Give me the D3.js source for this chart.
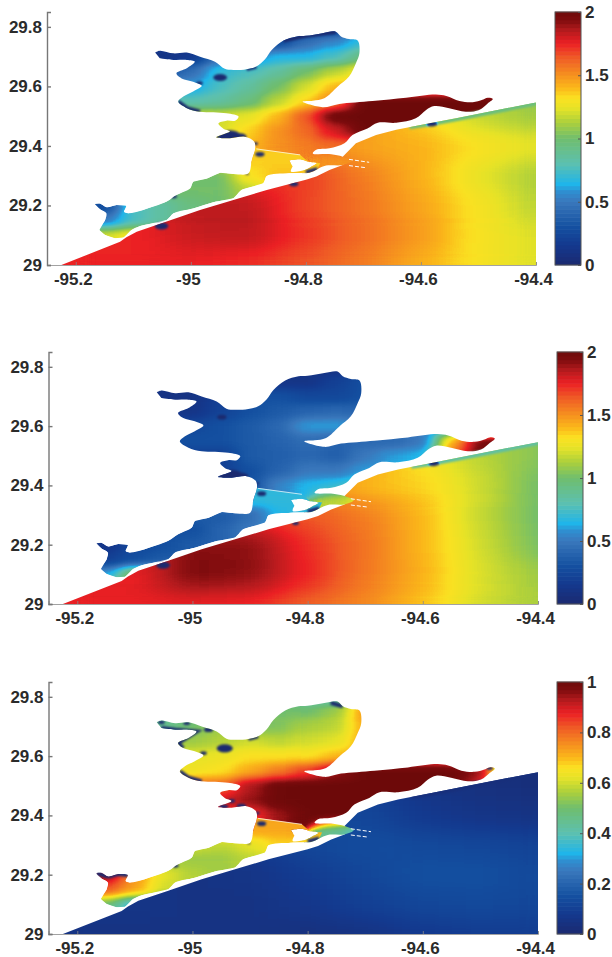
<!DOCTYPE html>
<html>
<head>
<meta charset="utf-8">
<script src="https://cdn.jsdelivr.net/npm/d3@7"></script>
<style>
html, body { margin: 0; padding: 0; background: #fff; }
svg { display: block; }
text { font-family: "Liberation Sans", Arial, sans-serif; font-size: 17px; font-weight: bold; fill: #2b2b2b; }
</style>
</head>
<body>
<svg id="svg1" width="612" height="957"></svg>
<script>
// grid positions of the values
var bayLons = [-95.15,-95.10,-95.05,-95.00,-94.95,-94.90,-94.85,-94.80,-94.75,-94.70,-94.65,-94.60,-94.55,-94.50,-94.45];
var bayLats = [29.80,29.75,29.70,29.65,29.60,29.55,29.50,29.45,29.40,29.35,29.30,29.25,29.20,29.15,29.10,29.05];
var gulfLons = [-95.2,-95.1,-95.0,-94.9,-94.8,-94.7,-94.6,-94.5,-94.4];
var gulfLats = [29.6,29.5,29.4,29.3,29.2,29.1,29.0];

// panel 1
var bay1 = [
 [.3,.3,.3,.3,.3,.3,.15,.1,.1,.5,.7,.7,.7,.7,.7],
 [.2,.2,.2,.15,.15,.2,.25,.45,.55,.7,.8,.8,.8,.8,.8],
 [.1,.1,.1,.15,.45,.5,.65,.65,.75,.95,1.1,1.1,1.1,1.1,1.1],
 [.3,.3,.3,.45,.7,.75,.85,1,1.15,1.3,1.4,1.4,1.4,1.4,1.4],
 [.6,.6,.6,.6,.75,.85,1,1.2,1.4,1.45,1.5,1.5,1.5,1.5,1.5],
 [.8,.8,.8,.8,.85,.95,1.15,1.35,1.55,2,2,2,2,2,2],
 [1,1,1.1,1.2,1.2,1.25,1.4,1.65,2,2,2,2,2,2,2],
 [1.2,1.2,1.2,1.2,1.2,1.35,1.5,1.6,1.8,2,2,2,2,2,2],
 [1.3,1.3,1.3,1.3,1.3,1.4,1.5,1.55,1.6,1.6,1.6,1.6,1.6,1.6,1.6],
 [1.36,1.36,1.36,1.36,1.36,1.36,1.36,1.36,1.5,1.5,1.5,1.5,1.5,1.5,1.5],
 [1,1,1,1,1,1.3,1.38,1.38,1.38,1.38,1.38,1.38,1.38,1.38,1.38],
 [1,1,1,1,1,1.15,1.3,1.38,1.38,1.38,1.38,1.38,1.38,1.38,1.38],
 [.25,.75,.85,.95,1,1.1,1.3,1.38,1.38,1.38,1.38,1.38,1.38,1.38,1.38],
 [.5,.75,.85,.95,1,1.1,1.3,1.38,1.38,1.38,1.38,1.38,1.38,1.38,1.38],
 [1.2,1.3,1.3,1.3,1.3,1.3,1.3,1.38,1.38,1.38,1.38,1.38,1.38,1.38,1.38],
 [1.3,1.3,1.3,1.3,1.3,1.3,1.3,1.38,1.38,1.38,1.38,1.38,1.38,1.38,1.38]
];
var gulf1 = [
 [1.5,1.5,1.5,1.5,1.5,1.5,1.35,1.15,1.05],
 [1.5,1.5,1.5,1.5,1.5,1.5,1.35,1.18,1.1],
 [1.6,1.6,1.6,1.6,1.55,1.45,1.42,1.32,1.25],
 [1.72,1.72,1.72,1.72,1.7,1.55,1.42,1.25,1.12],
 [1.74,1.74,1.84,1.84,1.68,1.58,1.45,1.3,1.15],
 [1.74,1.74,1.82,1.84,1.72,1.6,1.48,1.3,1.22],
 [1.75,1.75,1.75,1.72,1.65,1.55,1.42,1.3,1.22]
];

// panel 2
var bay2 = [
 [.15,.15,.15,.15,.15,.15,.12,.08,.08,.2,.3,.3,.3,.3,.3],
 [.12,.12,.12,.12,.12,.15,.12,.12,.2,.3,.35,.35,.35,.35,.35],
 [.1,.1,.1,.1,.2,.3,.3,.25,.25,.3,.4,.4,.4,.4,.4],
 [.12,.12,.12,.12,.22,.3,.35,.4,.42,.4,.4,.4,.4,.4,.4],
 [.25,.25,.25,.25,.3,.35,.42,.6,.6,.55,.5,.5,.5,.5,.5],
 [.3,.3,.3,.3,.3,.35,.4,.45,.4,.42,.42,.5,1.4,1.95,2],
 [.2,.2,.2,.2,.2,.35,.38,.42,.38,.5,.6,.65,1.6,2,2],
 [.2,.2,.2,.2,.2,.3,.4,.5,.5,.6,.65,.7,.8,.8,.8],
 [.3,.3,.3,.3,.3,.3,.55,.65,.7,.8,.8,.8,.8,.8,.8],
 [.68,.68,.68,.68,.68,.68,.68,.68,1.15,1.3,1.3,1.3,1.3,1.3,1.3],
 [.35,.35,.35,.35,.35,.45,.66,.68,.68,.68,.68,.68,.68,.68,.68],
 [.3,.3,.3,.3,.4,.5,.6,.68,.68,.68,.68,.68,.68,.68,.68],
 [.12,.25,.3,.35,.4,.5,.6,.68,.68,.68,.68,.68,.68,.68,.68],
 [.2,.3,.35,.35,.4,.5,.6,.68,.68,.68,.68,.68,.68,.68,.68],
 [.6,1.1,1.1,1.1,1.1,1.1,1.1,1.1,1.1,1.1,1.1,1.1,1.1,1.1,1.1],
 [1.1,1.2,1.2,1.2,1.2,1.2,1.2,1.2,1.2,1.2,1.2,1.2,1.2,1.2,1.2]
];
var gulf2 = [
 [1.45,1.45,1.45,1.45,1.45,1.45,1.3,1.15,1.05],
 [1.45,1.45,1.45,1.45,1.45,1.45,1.3,1.15,1.05],
 [1.6,1.6,1.6,1.6,1.55,1.4,1.35,1.2,1.0],
 [1.72,1.72,1.72,1.72,1.65,1.55,1.4,1.18,1.0],
 [1.76,1.76,1.93,1.92,1.72,1.58,1.4,1.2,1.02],
 [1.76,1.76,1.95,1.92,1.75,1.57,1.42,1.22,1.1],
 [1.76,1.76,1.76,1.74,1.62,1.52,1.38,1.2,1.12]
];

// panel 3
var bay3 = [
 [.5,.5,.5,.5,.5,.5,.45,.4,.4,.6,.75,.75,.75,.75,.75],
 [.45,.45,.45,.45,.5,.5,.5,.5,.55,.75,.8,.8,.8,.8,.8],
 [.45,.45,.45,.5,.55,.5,.52,.56,.58,.72,.8,.8,.8,.8,.8],
 [.55,.55,.55,.55,.57,.6,.58,.6,.62,.72,.7,.7,.7,.7,.7],
 [.62,.62,.62,.62,.63,.66,.66,.66,.7,.72,.8,.8,.8,.8,.8],
 [.64,.64,.64,.64,.66,.72,.78,.85,.95,1,1,1,1,.95,.3],
 [.8,.8,.8,.8,.8,.93,1,1,1,1,1,1,1,.9,.3],
 [.9,.9,.9,.9,.9,.95,1,1,1,1,1,1,1,1,1],
 [.85,.85,.85,.85,.85,.85,.95,1,1,1,1,1,1,1,1],
 [.72,.72,.72,.72,.72,.72,.72,.72,.45,.33,.33,.33,.33,.33,.33],
 [.6,.6,.6,.6,.58,.62,.68,.66,.66,.66,.66,.66,.66,.66,.66],
 [.55,.55,.55,.55,.55,.58,.6,.62,.62,.62,.62,.62,.62,.62,.62],
 [.95,.75,.62,.57,.55,.58,.6,.62,.62,.62,.62,.62,.62,.62,.62],
 [.82,.72,.6,.57,.55,.58,.6,.62,.62,.62,.62,.62,.62,.62,.62],
 [.5,.33,.33,.33,.33,.33,.33,.33,.33,.33,.33,.33,.33,.33,.33],
 [.3,.3,.3,.3,.3,.3,.3,.3,.3,.3,.3,.3,.3,.3,.3]
];
var gulf3 = [
 [.1,.1,.1,.1,.1,.1,.05,.04,.03],
 [.1,.1,.1,.1,.1,.1,.06,.04,.03],
 [.08,.08,.08,.1,.12,.12,.08,.06,.05],
 [.06,.06,.06,.08,.12,.14,.13,.12,.11],
 [.06,.06,.05,.06,.09,.12,.15,.15,.13],
 [.06,.06,.05,.05,.07,.1,.12,.13,.12],
 [.05,.05,.05,.05,.04,.05,.08,.09,.09]
];

// low spots [lon, lat, radius in degrees]
var spots1 = [[-94.949,29.630,.012],[-94.985,29.611,.006],[-95.030,29.230,.006],[-95.051,29.131,.012],[-94.880,29.372,.008],[-94.888,29.407,.005],[-94.902,29.306,.003],[-94.821,29.272,.008],[-94.581,29.474,.009],[-94.932,29.435,.018],[-94.946,29.429,.010],[-94.915,29.431,.012]];
var spots2 = [[-94.949,29.630,.008],[-95.051,29.131,.012],[-94.880,29.372,.008],[-94.888,29.407,.004],[-94.821,29.272,.006],[-94.581,29.474,.009],[-94.932,29.435,.018],[-94.946,29.429,.010],[-94.915,29.431,.012]];
var spots3 = [[-95.054,29.714,.006],[-95.010,29.711,.006],[-94.972,29.689,.008],[-94.944,29.626,.014],[-94.981,29.610,.006],[-95.030,29.230,.006],[-94.880,29.372,.008],[-94.888,29.407,.005],[-94.902,29.306,.003],[-94.946,29.429,.008],[-94.915,29.431,.008],[-94.932,29.449,.006],[-94.484,29.560,.006]];

// shoreline runs that stay at zero
var coast1 = [
 [[-94.839,29.754],[-94.800,29.770],[-94.748,29.784]],
 [[-95.022,29.549],[-95.007,29.527],[-94.984,29.515]],
 [[-94.903,29.658],[-94.886,29.667]],
 [[-94.80,29.312],[-94.78,29.322]]
];
var coast2 = [
 [[-94.80,29.312],[-94.78,29.322]]
];
var coast3 = [
 [[-94.760,29.780],[-94.739,29.768]],
 [[-95.054,29.695],[-95.030,29.689],[-94.993,29.683],[-95.025,29.644],[-95.016,29.627]],
 [[-95.022,29.549],[-95.007,29.527],[-94.984,29.515]],
 [[-94.903,29.658],[-94.886,29.667]],
 [[-95.167,29.205],[-95.146,29.194],[-95.129,29.202],[-95.112,29.199]],
 [[-94.80,29.312],[-94.78,29.322]]
];

// thin low band along the gulf shore, east part [panel 1, panel 2, panel 3]
var shoreBand = [[-94.62,29.466],[-94.585,29.476],[-94.539,29.493],[-94.40,29.546]];
var shoreValues = [0.95, 0.85, 0.03];

// shorelines, lon/lat
var bayOutline = [[-95.062,29.714],[-95.054,29.720],[-95.030,29.711],[-95.007,29.714],[-94.984,29.700],[-94.958,29.683],[-94.941,29.659],[-94.926,29.655],[-94.903,29.658],[-94.886,29.667],[-94.871,29.691],[-94.859,29.723],[-94.839,29.754],[-94.816,29.768],[-94.800,29.770],[-94.771,29.779],[-94.748,29.784],[-94.739,29.768],[-94.725,29.759],[-94.710,29.754],[-94.707,29.711],[-94.713,29.678],[-94.725,29.633],[-94.745,29.599],[-94.768,29.560],[-94.788,29.552],[-94.806,29.549],[-94.771,29.530],[-94.742,29.541],[-94.684,29.551],[-94.626,29.562],[-94.574,29.573],[-94.556,29.568],[-94.533,29.551],[-94.510,29.547],[-94.493,29.555],[-94.484,29.562],[-94.475,29.558],[-94.484,29.543],[-94.499,29.521],[-94.522,29.515],[-94.551,29.527],[-94.577,29.534],[-94.591,29.521],[-94.609,29.493],[-94.643,29.478],[-94.675,29.478],[-94.693,29.459],[-94.719,29.437],[-94.733,29.409],[-94.759,29.392],[-94.782,29.387],[-94.788,29.375],[-94.756,29.372],[-94.736,29.364],[-94.720,29.350],[-94.736,29.336],[-94.765,29.334],[-94.780,29.322],[-94.794,29.310],[-94.829,29.308],[-94.868,29.299],[-94.874,29.275],[-94.912,29.252],[-94.926,29.224],[-94.961,29.211],[-94.996,29.190],[-95.030,29.174],[-95.042,29.151],[-95.088,29.131],[-95.103,29.118],[-95.117,29.092],[-95.132,29.090],[-95.149,29.101],[-95.159,29.118],[-95.149,29.151],[-95.147,29.174],[-95.158,29.187],[-95.167,29.205],[-95.158,29.207],[-95.146,29.194],[-95.129,29.202],[-95.112,29.199],[-95.116,29.179],[-95.109,29.174],[-95.083,29.185],[-95.042,29.213],[-95.025,29.235],[-95.001,29.258],[-94.996,29.280],[-94.972,29.291],[-94.949,29.310],[-94.926,29.306],[-94.900,29.308],[-94.894,29.353],[-94.888,29.392],[-94.890,29.415],[-94.906,29.431],[-94.932,29.426],[-94.956,29.429],[-94.932,29.449],[-94.944,29.459],[-94.952,29.476],[-94.938,29.485],[-94.923,29.485],[-94.917,29.499],[-94.938,29.510],[-94.984,29.515],[-95.007,29.527],[-95.022,29.549],[-95.013,29.566],[-94.996,29.583],[-94.981,29.602],[-94.996,29.616],[-95.016,29.627],[-95.025,29.644],[-95.007,29.661],[-94.993,29.683],[-95.007,29.689],[-95.030,29.689],[-95.054,29.695]];
var pelicanIsland = [[-94.829,29.351],[-94.810,29.355],[-94.796,29.347],[-94.781,29.342],[-94.790,29.331],[-94.802,29.319],[-94.826,29.314],[-94.823,29.331]];
var gulfOutline = [[-95.225,29.0],[-95.123,29.078],[-95.112,29.093],[-95.094,29.112],[-95.042,29.146],[-94.984,29.185],[-94.926,29.218],[-94.868,29.252],[-94.800,29.286],[-94.782,29.297],[-94.759,29.319],[-94.736,29.336],[-94.729,29.350],[-94.736,29.364],[-94.713,29.409],[-94.678,29.437],[-94.643,29.454],[-94.585,29.476],[-94.539,29.493],[-94.40,29.546],[-94.40,29.0]];
var jetties = [
 [[-94.725,29.355],[-94.690,29.345]],
 [[-94.725,29.334],[-94.696,29.327]]
];
var dike = [[-94.886,29.390],[-94.810,29.370]];
// the lower bay, south of the dike, has its own field
var lowerBayOutline = bayOutline.slice(58, 96).concat([[-94.81,29.37],[-94.796,29.347],[-94.775,29.342]]);

var xTicks = [-95.2,-95,-94.8,-94.6,-94.4];
var yTicks = [29,29.2,29.4,29.6,29.8];
var barTicks2 = [0,0.5,1,1.5,2];
var barTicks1 = [0,0.2,0.4,0.6,0.8,1];

// colour bar stops, as a share of the bar height
var cmapStops = [0,.08,.15,.25,.29,.32,.40,.50,.56,.62,.66,.70,.76,.82,.875,.93,.97,1];
var cmapColors = ['#1b2a70','#14398f','#1450a0','#3a78bc','#2f8fd0','#1fb5ea','#5cc0b0','#6fbe6e','#a9cf3e','#e6e327','#fbe122','#fbb81a','#f58a20','#ef5a26','#ec2024','#b11a1d','#7d0c0e','#6e0a0a'];

var panels = [
 {left:47,  right:536, top:12,  bottom:265, barL:555, barR:581, vmax:2, bay:bay1, gulf:gulf1, spots:spots1, coast:coast1, barTicks:barTicks2},
 {left:48.5,right:538, top:352, bottom:604, barL:557, barR:583, vmax:2, bay:bay2, gulf:gulf2, spots:spots2, coast:coast2, barTicks:barTicks2},
 {left:48.5,right:538, top:682, bottom:934, barL:557, barR:583, vmax:1, bay:bay3, gulf:gulf3, spots:spots3, coast:coast3, barTicks:barTicks1}
];

var svg = d3.select('svg');
var cmap = d3.scaleLinear().domain(cmapStops).range(cmapColors).clamp(true);

// the field is drawn as gray levels, the filter smooths the levels and then looks the colour up
var defs = svg.append('defs');
var samples = d3.range(0, 129).map(function(i){ return d3.rgb(cmap(i/128)); });
function addFilter(id, blur){
    var f = defs.append('filter')
        .attr('id', id)
        .attr('filterUnits', 'userSpaceOnUse')
        .attr('x', 0).attr('y', 0).attr('width', 612).attr('height', 957)
        .attr('color-interpolation-filters', 'sRGB');
    f.append('feGaussianBlur').attr('stdDeviation', blur);
    var t = f.append('feComponentTransfer');
    t.append('feFuncR').attr('type','table').attr('tableValues', samples.map(function(c){return (c.r/255).toFixed(3)}).join(' '));
    t.append('feFuncG').attr('type','table').attr('tableValues', samples.map(function(c){return (c.g/255).toFixed(3)}).join(' '));
    t.append('feFuncB').attr('type','table').attr('tableValues', samples.map(function(c){return (c.b/255).toFixed(3)}).join(' '));
    if(id != 'detail') t.append('feFuncA').attr('type','linear').attr('slope', 60);
}
addFilter('bayBlur', '9 4.5');
addFilter('gulfBlur', '20 10');
addFilter('detail', '1.2 0.8');

panels.forEach(function(p, n){
    var x = d3.scaleLinear().domain([-95.25,-94.4]).range([p.left, p.right]);
    var y = d3.scaleLinear().domain([29,29.85]).range([p.bottom, p.top]);
    var gray = d3.scaleLinear().domain([0,p.vmax]).range([0,255]).clamp(true);
    var line = d3.line().x(function(d){return x(d[0])}).y(function(d){return y(d[1])});
    var shore = d3.line().x(function(d){return x(d[0])}).y(function(d){return y(d[1])}).curve(d3.curveCatmullRom.alpha(0.5));
    var g = svg.append('g');

    var bayPath = shore(bayOutline) + 'Z' + shore(pelicanIsland) + 'Z';
    var gulfPath = line(gulfOutline) + 'Z';

    var bayClip = defs.append('clipPath').attr('id', 'bayClip' + n);
    bayClip.append('path').attr('d', bayPath).attr('clip-rule', 'evenodd');
    var lowerClip = defs.append('clipPath').attr('id', 'lowerClip' + n);
    lowerClip.append('path').attr('d', line(lowerBayOutline) + 'Z');
    var gulfClip = defs.append('clipPath').attr('id', 'gulfClip' + n);
    gulfClip.append('path').attr('d', gulfPath);
    var allClip = defs.append('clipPath').attr('id', 'allClip' + n);
    allClip.append('path').attr('d', bayPath).attr('clip-rule', 'evenodd');
    allClip.append('path').attr('d', gulfPath);

    function drawGrid(parent, rows, lons, lats, dLon, dLat, keep){
        rows.forEach(function(row, j){
            parent.selectAll(null)
                .data(row.map(function(v,i){ return {v:v, i:i, j:j}; }).filter(keep))
                .enter()
                .append('rect')
                .attr('x', function(d){ return x(lons[d.i] - dLon/2); })
                .attr('y', y(lats[j] + dLat/2))
                .attr('width', x(dLon) - x(0) + 0.5)
                .attr('height', y(0) - y(dLat) + 0.5)
                .attr('fill', function(d){ var v = Math.round(gray(d.v)); return d3.rgb(v,v,v); });
        });
    }

    // gulf
    var gulfField = g.append('g').attr('clip-path', 'url(#gulfClip' + n + ')')
        .append('g').attr('filter', 'url(#gulfBlur)');
    drawGrid(gulfField, p.gulf, gulfLons, gulfLats, 0.1, 0.1, function(){ return true; });

    // bay north of the dike, and the pass
    var bayClipped = g.append('g').attr('clip-path', 'url(#bayClip' + n + ')');
    var upperField = bayClipped.append('g').attr('filter', 'url(#bayBlur)');
    drawGrid(upperField, p.bay, bayLons, bayLats, 0.05, 0.05, function(d){ return d.j < 9 || (d.j == 9 && d.i >= 8); });

    // bay south of the dike
    var lowerField = bayClipped.append('g').attr('clip-path', 'url(#lowerClip' + n + ')')
        .append('g').attr('filter', 'url(#bayBlur)');
    drawGrid(lowerField, p.bay, bayLons, bayLats, 0.05, 0.05, function(d){ return d.j > 9 || (d.j == 9 && d.i < 8); });

    // dry spots and shoreline runs
    var detail = g.append('g').attr('clip-path', 'url(#allClip' + n + ')')
        .append('g').attr('filter', 'url(#detail)');
    var bandGray = Math.round(gray(shoreValues[n]));
    detail.append('path')
        .attr('d', line(shoreBand))
        .attr('fill', 'none')
        .attr('stroke', d3.rgb(bandGray, bandGray, bandGray))
        .attr('stroke-width', 6);
    detail.selectAll('ellipse')
        .data(p.spots)
        .enter()
        .append('ellipse')
        .attr('cx', function(d){ return x(d[0]); })
        .attr('cy', function(d){ return y(d[1]); })
        .attr('rx', function(d){ return x(d[0] + d[2]) - x(d[0]); })
        .attr('ry', function(d){ return y(d[1]) - y(d[1] + d[2]); })
        .attr('fill', '#000');
    detail.selectAll('path.coast')
        .data(p.coast)
        .enter()
        .append('path')
        .attr('class', 'coast')
        .attr('d', line)
        .attr('fill', 'none')
        .attr('stroke', '#000')
        .attr('stroke-width', 4);

    // jetties and the dike
    g.selectAll('path.jetty')
        .data(jetties)
        .enter()
        .append('path')
        .attr('class', 'jetty')
        .attr('d', line)
        .attr('fill', 'none')
        .attr('stroke', '#fff')
        .attr('stroke-width', 1)
        .attr('stroke-dasharray', '4 2');
    g.append('path')
        .attr('d', line(dike))
        .attr('fill', 'none')
        .attr('stroke', '#fff')
        .attr('stroke-opacity', 0.7)
        .attr('stroke-width', 1);

    // axes
    var xAxis = g.append('g')
        .attr('transform', 'translate(0,' + p.bottom + ')')
        .call(d3.axisBottom(x).tickValues(xTicks).tickSize(-3).tickPadding(7).tickFormat(String));
    xAxis.selectAll('text').attr('dx', -3).attr('dy', '0.75em');
    var yAxis = g.append('g')
        .attr('transform', 'translate(' + p.left + ',0)')
        .call(d3.axisLeft(y).tickValues(yTicks).tickSize(-4).tickPadding(5).tickFormat(String));
    xAxis.selectAll('path, line').attr('stroke', '#8a8a8a').attr('stroke-width', 0.8);
    yAxis.selectAll('path, line').attr('stroke', '#777').attr('stroke-width', 1.4);
    xAxis.selectAll('text').style('font-size', '17px');
    yAxis.selectAll('text').style('font-size', '17px');

    // colour bar
    var barY = d3.scaleLinear().domain([0,p.vmax]).range([p.bottom, p.top]);
    var bands = d3.range(0, 64);
    var bar = g.append('g');
    bar.selectAll('rect')
        .data(bands)
        .enter()
        .append('rect')
        .attr('x', p.barL)
        .attr('width', p.barR - p.barL)
        .attr('y', function(d){ return barY((d+1)/64*p.vmax) - 0.3; })
        .attr('height', (p.bottom - p.top)/64 + 0.6)
        .attr('fill', function(d){ return cmap((d+0.5)/64); });
    bar.append('rect')
        .attr('x', p.barL).attr('y', p.top)
        .attr('width', p.barR - p.barL).attr('height', p.bottom - p.top)
        .attr('fill', 'none').attr('stroke', '#555').attr('stroke-width', 1);
    var barAxis = g.append('g')
        .attr('transform', 'translate(' + p.barR + ',0)')
        .call(d3.axisRight(barY).tickValues(p.barTicks).tickSize(-3).tickPadding(4).tickFormat(String));
    barAxis.select('.domain').remove();
    barAxis.selectAll('line').attr('stroke', '#555');
    barAxis.selectAll('text').style('font-size', '17px');
});
</script>
</body>
</html>
